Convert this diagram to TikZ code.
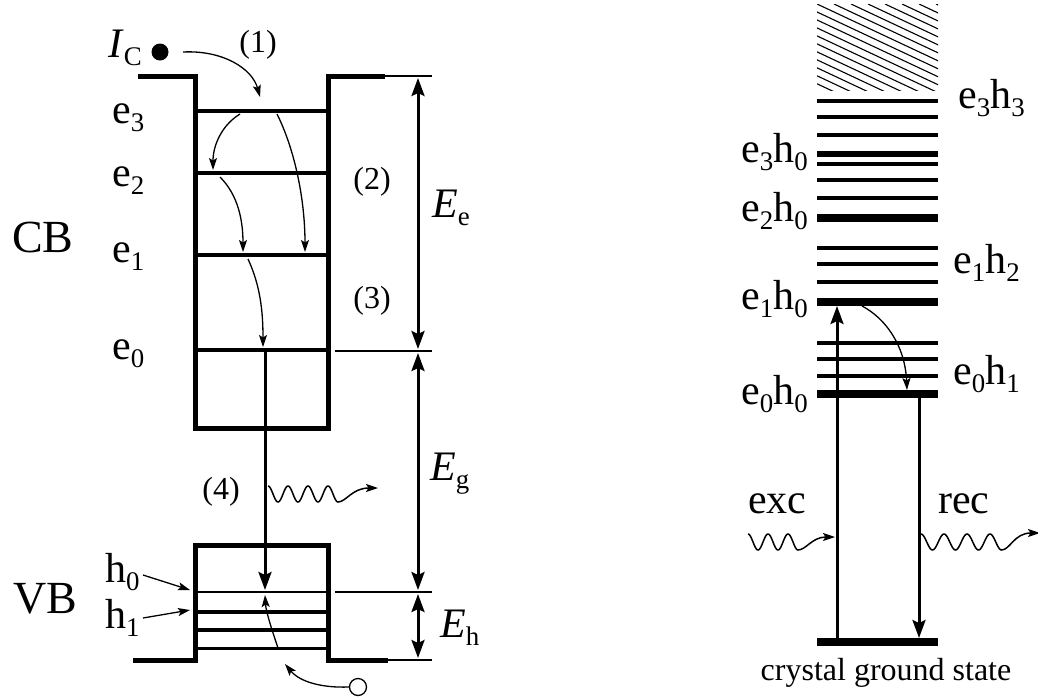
\documentclass[tikz,border=0pt]{standalone}
\usepackage{fontspec}
\setmainfont{Liberation Serif}
\usetikzlibrary{arrows.meta}
\newcommand\sbs[1]{\raisebox{-0.45ex}{\scalebox{0.64}{#1}}}
\begin{document}
\begin{tikzpicture}[x=1pt,y=-1pt,line join=miter,
  BigT/.tip={Stealth[length=18pt,width=13pt,inset=3pt]},
  SmT/.tip={Stealth[length=12pt,width=8pt,inset=2.5pt]},
  wall/.style={line width=5pt},
  lev/.style={line width=4.5pt},
  levthin/.style={line width=3.5pt},
  guide/.style={line width=1.1pt},
  thk/.style={line width=3pt,-BigT},
  dim/.style={line width=3pt,BigT-BigT},
  thn/.style={line width=1.3pt,-SmT},
  wav/.style={line width=1.5pt,-SmT},
  huge/.style={font=\fontsize{46}{52}\selectfont, inner sep=0pt},
  big/.style={font=\fontsize{42}{48}\selectfont, inner sep=0pt},
  med/.style={font=\fontsize{32}{38}\selectfont, inner sep=0pt},
  rlev/.style={line width=3.5pt},
  rthick/.style={line width=8pt}]
\useasboundingbox (0,0) rectangle (1038,699);

% ---------- left: CB well ----------
\coordinate (wA) at (138,76); \coordinate (wB) at (195,76);
\coordinate (wC) at (195,428); \coordinate (wD) at (328,428);
\coordinate (wE) at (328,76); \coordinate (wF) at (385,76);
\draw[wall] (wA) -- (wB) -- (wC) -- (wD) -- (wE) -- (wF);
\draw[levthin] (195,111) -- (328,111);
\draw[lev] (195,173) -- (328,173);
\draw[lev] (195,255) -- (328,255);
\draw[lev] (195,350) -- (328,350);

% ---------- left: VB well ----------
\draw[wall] (133,660) -- (195,660) -- (195,545) -- (328,545) -- (328,660) -- (388,660);
\draw[line width=2.5pt] (195,592) -- (328,592);
\draw[line width=4pt] (195,612) -- (328,612);
\draw[line width=4pt] (195,630) -- (328,630);
\draw[line width=3pt] (195,648) -- (328,648);

% guide lines
\draw[guide] (385,76) -- (432,76);
\draw[guide] (335,351) -- (432,351);
\draw[guide] (335,592) -- (432,592);
\draw[guide] (388,660) -- (432,660);

% dimension arrows
\coordinate (d1) at (418,78); \coordinate (d2) at (418,349);
\coordinate (d3) at (418,353); \coordinate (d4) at (418,590);
\coordinate (d5) at (418,594); \coordinate (d6) at (418,658);
\draw[dim] (d1) -- (d2);
\draw[dim] (d3) -- (d4);
\draw[dim] (d5) -- (d6);
\node[big, anchor=base west] (Ee) at (432,217) {\textit{E}\sbs{e}};
\node[big, anchor=base west] (Eg) at (430,480) {\textit{E}\sbs{g}};
\node[big, anchor=base west] (Eh) at (440,637) {\textit{E}\sbs{h}};

% labels
\node[huge, anchor=base west] (lCB) at (12,252) {CB};
\node[huge, anchor=base west] (lVB) at (13,613) {VB};
\node[big, anchor=base west] (le3) at (112,123) {e\sbs{3}};
\node[big, anchor=base west] (le2) at (112,186) {e\sbs{2}};
\node[big, anchor=base west] (le1) at (112,262) {e\sbs{1}};
\node[big, anchor=base west] (le0) at (112,359) {e\sbs{0}};
\node[big, anchor=base west] (lh0) at (105,582) {h\sbs{0}};
\node[big, anchor=base west] (lh1) at (105,628) {h\sbs{1}};
\node[med] (p1) at (258,45) {(1)};
\node[med] (p2) at (372,182) {(2)};
\node[med] (p3) at (372,301) {(3)};
\node[med] (p4) at (221,492) {(4)};

% I_C and capture
\node[big, anchor=base west] (IC) at (108,57) {\textit{I}\sbs{C}};
\node[circle, fill, minimum size=17pt, inner sep=0pt] (dot) at (160,52) {};
\coordinate (c1s) at (183,52); \coordinate (c1e) at (260,97);
\draw[thn] (c1s) .. controls (222,50) and (252,68) .. (c1e);

% relaxation arrows
\coordinate (r1s) at (240,114); \coordinate (r1e) at (213,170);
\draw[thn] (r1s) .. controls (222,125) and (213,145) .. (r1e);
\coordinate (r2s) at (277,114); \coordinate (r2e) at (305,252);
\draw[thn] (r2s) .. controls (295,150) and (305,200) .. (r2e);
\coordinate (r3s) at (220,177); \coordinate (r3e) at (243,252);
\draw[thn] (r3s) .. controls (238,195) and (243,220) .. (r3e);
\coordinate (r4s) at (248,259); \coordinate (r4e) at (263,347);
\draw[thn] (r4s) .. controls (260,285) and (263,310) .. (r4e);

% recombination (4)
\coordinate (v1) at (265,350); \coordinate (v2) at (265,590);
\draw[thk] (v1) -- (v2);
\draw[wav] plot[domain=0:3.5, samples=90, variable=\t] ({268+20*\t},{494-8*cos(360*\t)})
  .. controls (346,502) and (352,488) .. (378,488);

% h arrows
\coordinate (h0s) at (143,575); \coordinate (h0e) at (190,590);
\coordinate (h1s) at (143,618); \coordinate (h1e) at (190,610);
\draw[thn] (h0s) -- (h0e);
\draw[thn] (h1s) -- (h1e);

% hole
\node[circle, draw, line width=1.3pt, minimum size=17pt, inner sep=0pt] (ho) at (358,687) {};
\coordinate (hoe) at (285,664);
\draw[thn] (ho.west) .. controls (322,688) and (300,682) .. (hoe);
\coordinate (hus) at (278,648); \coordinate (hue) at (265,595);
\draw[thn] (hus) .. controls (272,630) and (266,612) .. (hue);

% ---------- right diagram ----------
\begin{scope}
\clip (817,4) rectangle (938,90);
\foreach \i in {-11,...,7} \draw[line width=1.1pt] ({817+17*\i},4) -- ++(260,122);
\end{scope}
\foreach \y in {101,117,135,164,180,198,248,264,282,343,359,376}
  \draw[rlev] (817,\y) -- (938,\y);
\draw[line width=6pt] (817,154) -- (938,154);
\foreach \y in {218,302,394,642}
  \draw[rthick] (817,\y) -- (938,\y);

\coordinate (x1) at (837,642); \coordinate (x2) at (837,306);
\draw[thk] (x1) -- (x2);
\coordinate (y1) at (919,394); \coordinate (y2) at (919,638);
\draw[thk] (y1) -- (y2);
\coordinate (q1) at (862,306); \coordinate (q2) at (907,390);
\draw[thn] (q1) .. controls (885,318) and (905,345) .. (q2);

\draw[wav] plot[domain=0:2.5, samples=70, variable=\t] ({748+20*\t},{542-8*cos(360*\t)})
  .. controls (806,550) and (812,537) .. (835,537);
\draw[wav] plot[domain=0:3.5, samples=90, variable=\t] ({921+23*\t},{542-8*cos(360*\t)})
  .. controls (1010,550) and (1014,533) .. (1040,533);

\node[big, anchor=base west] (Le3h3) at (958,108) {e\sbs{3}h\sbs{3}};
\node[big, anchor=base east] (Le3h0) at (808,162) {e\sbs{3}h\sbs{0}};
\node[big, anchor=base east] (Le2h0) at (808,221) {e\sbs{2}h\sbs{0}};
\node[big, anchor=base west] (Le1h2) at (953,273) {e\sbs{1}h\sbs{2}};
\node[big, anchor=base east] (Le1h0) at (808,309) {e\sbs{1}h\sbs{0}};
\node[big, anchor=base west] (Le0h1) at (953,384) {e\sbs{0}h\sbs{1}};
\node[big, anchor=base east] (Le0h0) at (808,404) {e\sbs{0}h\sbs{0}};
\node[big, anchor=base west] (Lexc) at (748,513) {exc};
\node[big, anchor=base west] (Lrec) at (938,513) {rec};
\node[med, anchor=base] (Lgs) at (886,680) {crystal ground state};
\end{tikzpicture}
\end{document}
